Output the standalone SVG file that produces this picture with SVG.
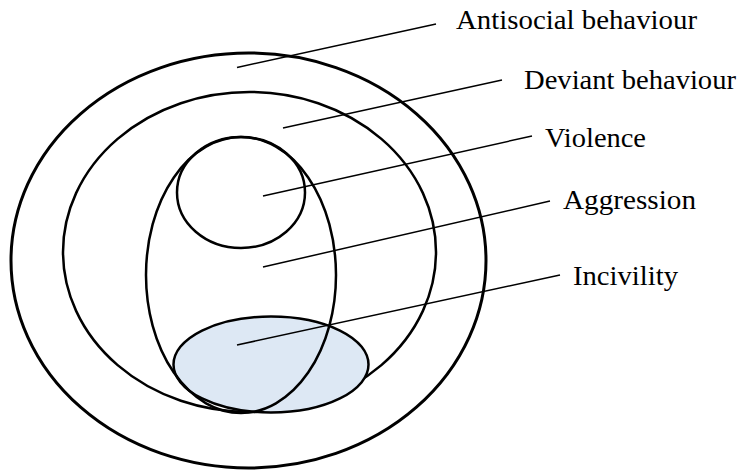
<svg xmlns="http://www.w3.org/2000/svg" width="743" height="472" viewBox="0 0 743 472">
<style>
.shape{fill:none;stroke:#000;stroke-width:2.5}
.outer{stroke-width:3}
.fillc{fill:#dde8f4}
.conn line{stroke:#000;stroke-width:1.5}
.lbl{font-family:"Liberation Serif","Times New Roman",serif;font-size:26.5px;fill:#000}
</style>
<rect width="743" height="472" fill="#fff"/>
<g id="antisocial">
<ellipse class="shape outer" cx="248.5" cy="260.5" rx="237.5" ry="207.5"/>
<text class="lbl" x="456" y="28.5" textLength="241" lengthAdjust="spacingAndGlyphs">Antisocial behaviour</text>
</g>
<g id="deviant">
<ellipse class="shape" cx="249.5" cy="252" rx="186.5" ry="160"/>
<text class="lbl" x="524" y="88.5" textLength="212" lengthAdjust="spacingAndGlyphs">Deviant behaviour</text>
</g>
<g id="incivility">
<ellipse class="shape fillc" cx="271" cy="364.5" rx="97.5" ry="48"/>
<text class="lbl" x="573" y="285" textLength="105" lengthAdjust="spacingAndGlyphs">Incivility</text>
</g>
<g id="aggression">
<ellipse class="shape" cx="241" cy="275" rx="95" ry="138"/>
<text class="lbl" x="563" y="209" textLength="133" lengthAdjust="spacingAndGlyphs">Aggression</text>
</g>
<g id="violence">
<ellipse class="shape" cx="241" cy="192.5" rx="64" ry="55.5"/>
<text class="lbl" x="545" y="147" textLength="101" lengthAdjust="spacingAndGlyphs">Violence</text>
</g>
<g id="connectors" class="conn">
<line x1="237" y1="67.5" x2="436" y2="24"/>
<line x1="283" y1="128" x2="502" y2="80"/>
<line x1="263" y1="196" x2="532" y2="136"/>
<line x1="263" y1="267" x2="550" y2="201"/>
<line x1="237" y1="345" x2="560" y2="275"/>
</g>
</svg>
